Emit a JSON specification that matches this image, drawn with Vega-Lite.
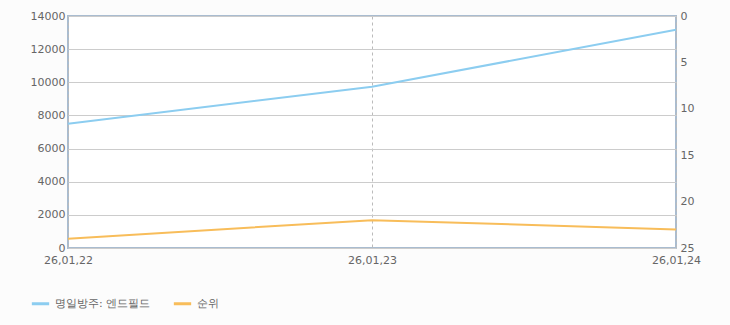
{
  "$schema": "https://vega.github.io/schema/vega-lite/v6.json",
  "width": 608,
  "height": 232,
  "autosize": {"type": "none"},
  "padding": {"left": 68, "top": 16, "right": 54, "bottom": 77},
  "background": "#fcfcfc",
  "config": {
    "font": "DejaVu Sans",
    "view": {"stroke": "#a9bcd0", "strokeWidth": 2, "fill": "#ffffff"},
    "axis": {"labelColor": "#666666", "labelFont": "DejaVu Sans", "labelFontSize": 11, "ticks": false, "domain": false, "title": null}
  },
  "data": {
    "values": [
      {"d": "26,01,22", "s": "명일방주: 엔드필드", "v": 7500},
      {"d": "26,01,23", "s": "명일방주: 엔드필드", "v": 9730},
      {"d": "26,01,24", "s": "명일방주: 엔드필드", "v": 13170},
      {"d": "26,01,22", "s": "순위", "v": 24},
      {"d": "26,01,23", "s": "순위", "v": 22},
      {"d": "26,01,24", "s": "순위", "v": 23}
    ]
  },
  "encoding": {
    "x": {
      "field": "d", "type": "ordinal",
      "scale": {"type": "point", "padding": 0},
      "axis": {"labelAngle": 0, "grid": true, "gridColor": "#bbbbbb", "gridDash": [3, 3], "labelPadding": 6}
    },
    "color": {
      "field": "s", "type": "nominal",
      "scale": {"domain": ["명일방주: 엔드필드", "순위"], "range": ["#8ccdf0", "#f8bd5a"]},
      "legend": {
        "title": null, "orient": "none", "direction": "horizontal",
        "legendX": -38, "legendY": 277,
        "symbolType": "stroke", "symbolStrokeWidth": 3, "symbolSize": 300,
        "labelColor": "#666666", "labelFontSize": 11, "labelFont": "DejaVu Sans",
        "columnPadding": 16
      }
    }
  },
  "layer": [
    {
      "transform": [{"filter": "datum.s === '명일방주: 엔드필드'"}],
      "mark": {"type": "line", "strokeWidth": 2},
      "encoding": {
        "y": {
          "field": "v", "type": "quantitative",
          "scale": {"domain": [0, 14000], "nice": false},
          "axis": {"orient": "left", "format": "d", "values": [0, 2000, 4000, 6000, 8000, 10000, 12000, 14000], "grid": true, "gridColor": "#cccccc", "labelPadding": 3}
        }
      }
    },
    {
      "transform": [{"filter": "datum.s === '순위'"}],
      "mark": {"type": "line", "strokeWidth": 2},
      "encoding": {
        "y": {
          "field": "v", "type": "quantitative",
          "scale": {"domain": [0, 25], "reverse": true, "nice": false},
          "axis": {"orient": "right", "values": [0, 5, 10, 15, 20, 25], "grid": false, "labelPadding": 4}
        }
      }
    }
  ],
  "resolve": {"scale": {"y": "independent"}}
}
